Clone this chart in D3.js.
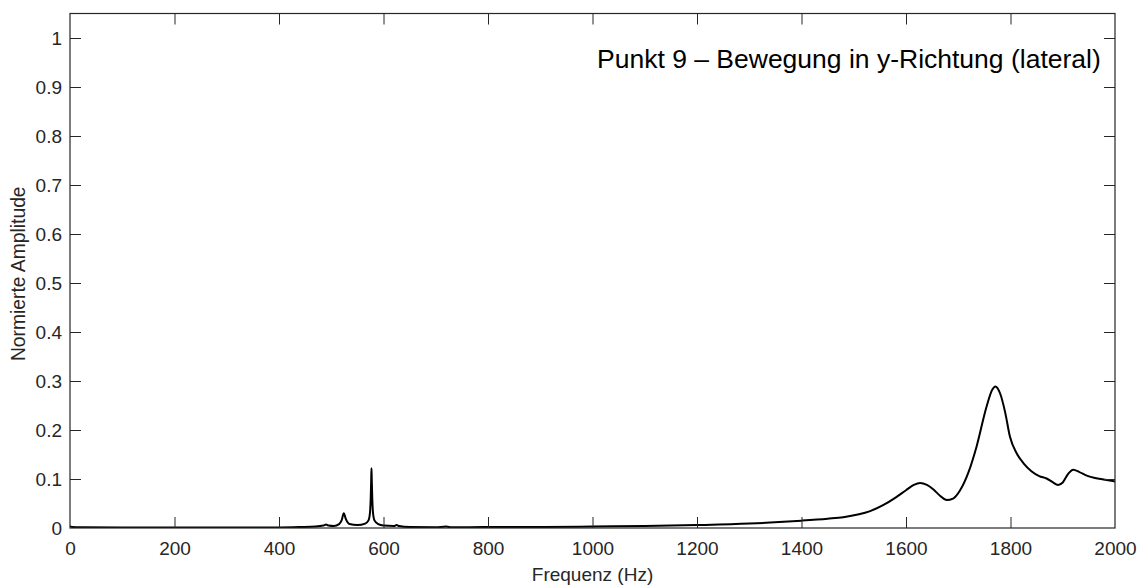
<!DOCTYPE html>
<html>
<head>
<meta charset="utf-8">
<script src="https://cdn.jsdelivr.net/npm/d3@7"></script>
<style>
  html, body { margin: 0; padding: 0; background: #fff; }
  svg { display: block; }
  text { font-family: "Liberation Sans", Arial, Helvetica, sans-serif; }
</style>
</head>
<body>
<svg id="chart" width="1146" height="588"></svg>
<script>
// Frequency response, point 9, lateral (y) direction
const freq = [0, 5, 20, 100, 200, 300, 400, 440, 470, 485, 490, 495, 505, 515, 520, 524, 528, 535, 550, 565, 571, 574, 575.5, 576.5, 577, 577.5, 578.5, 580, 583, 590, 600, 620, 625, 630, 650, 700, 720, 730, 800, 900, 1000, 1100, 1200, 1300, 1340, 1400, 1450, 1480, 1510, 1530, 1557, 1580, 1600, 1615, 1627, 1640, 1652, 1665, 1678, 1690, 1703, 1720, 1735, 1754, 1765, 1771, 1780, 1790, 1799, 1812, 1825, 1840, 1855, 1869, 1880, 1891, 1900, 1910, 1920, 1932, 1946, 1962, 1978, 2000];
const amp = [0.004, 0.002, 0.0015, 0.001, 0.001, 0.001, 0.0012, 0.002, 0.003, 0.005, 0.007, 0.005, 0.004, 0.008, 0.016, 0.03, 0.018, 0.008, 0.006, 0.009, 0.015, 0.03, 0.06, 0.1, 0.122, 0.1, 0.06, 0.03, 0.015, 0.008, 0.005, 0.004, 0.006, 0.004, 0.002, 0.0015, 0.003, 0.0015, 0.002, 0.002, 0.003, 0.004, 0.006, 0.009, 0.011, 0.015, 0.019, 0.022, 0.028, 0.034, 0.047, 0.062, 0.077, 0.088, 0.092, 0.088, 0.079, 0.066, 0.057, 0.06, 0.076, 0.115, 0.166, 0.247, 0.282, 0.289, 0.275, 0.235, 0.186, 0.152, 0.132, 0.116, 0.106, 0.101, 0.094, 0.088, 0.093, 0.11, 0.119, 0.114, 0.107, 0.102, 0.099, 0.095];

const xTicks = [0, 200, 400, 600, 800, 1000, 1200, 1400, 1600, 1800, 2000];
const yTicks = [0, 0.1, 0.2, 0.3, 0.4, 0.5, 0.6, 0.7, 0.8, 0.9, 1];

const titleText = "Punkt 9 – Bewegung in y-Richtung (lateral)";
const xLabel = "Frequenz (Hz)";
const yLabel = "Normierte Amplitude";

const margin = { left: 70, right: 31, top: 13.5, bottom: 60 };
const W = 1146, H = 588;
const x0 = margin.left, x1 = W - margin.right;
const y0 = H - margin.bottom, y1 = margin.top;

const svg = d3.select("#chart");
const axisColor = "#262626";
const tickLen = 11;

const x = d3.scaleLinear().domain([0, 2000]).range([x0, x1]);
const y = d3.scaleLinear().domain([0, 1.05]).range([y0, y1]);

// Data curve (clipped to plot box)
svg.append("clipPath").attr("id", "plotClip")
  .append("rect").attr("x", x0).attr("y", y1).attr("width", x1 - x0).attr("height", y0 - y1);

const data = freq.map((f, i) => [f, amp[i]]);
const line = d3.line().x(d => x(d[0])).y(d => y(d[1])).curve(d3.curveMonotoneX);

svg.append("path")
  .datum(data)
  .attr("clip-path", "url(#plotClip)")
  .attr("fill", "none")
  .attr("stroke", "#000")
  .attr("stroke-width", 2)
  .attr("stroke-linejoin", "round")
  .attr("d", line);

// Axes: inward ticks on all four sides
const fmt = d => d3.format("~g")(d);

const axBottom = svg.append("g").attr("transform", `translate(0,${y0})`)
  .call(d3.axisBottom(x).tickValues(xTicks).tickSizeInner(-tickLen).tickSizeOuter(0).tickPadding(14).tickFormat(fmt));
const axTop = svg.append("g").attr("transform", `translate(0,${y1})`)
  .call(d3.axisTop(x).tickValues(xTicks).tickSizeInner(-tickLen).tickSizeOuter(0).tickFormat(""));
const axLeft = svg.append("g").attr("transform", `translate(${x0},0)`)
  .call(d3.axisLeft(y).tickValues(yTicks).tickSizeInner(-tickLen).tickSizeOuter(0).tickPadding(8).tickFormat(fmt));
const axRight = svg.append("g").attr("transform", `translate(${x1},0)`)
  .call(d3.axisRight(y).tickValues(yTicks).tickSizeInner(-tickLen).tickSizeOuter(0).tickFormat(""));

[axBottom, axTop, axLeft, axRight].forEach(g => {
  g.select(".domain").remove();
  g.selectAll(".tick line").attr("stroke", axisColor).attr("stroke-width", 1);
  g.selectAll(".tick text")
    .attr("fill", axisColor)
    .style("font-size", "19px")
    .style("font-family", "'Liberation Sans', Arial, sans-serif");
});
// tick marks that would sit on the box edges are not needed
axBottom.selectAll(".tick").filter(d => d === 0 || d === 2000).select("line").remove();
axTop.selectAll(".tick").filter(d => d === 0 || d === 2000).select("line").remove();
axLeft.selectAll(".tick").filter(d => d === 0).select("line").remove();
axRight.selectAll(".tick").filter(d => d === 0).select("line").remove();

// Plot box
svg.append("rect")
  .attr("x", x0).attr("y", y1)
  .attr("width", x1 - x0).attr("height", y0 - y1)
  .attr("fill", "none")
  .attr("stroke", axisColor)
  .attr("stroke-width", 1.2);

// Axis labels
svg.append("text")
  .attr("x", (x0 + x1) / 2).attr("y", 581)
  .attr("text-anchor", "middle")
  .attr("fill", axisColor)
  .style("font-size", "19px")
  .text(xLabel);

svg.append("text")
  .attr("transform", `translate(25,${(y0 + y1) / 2 + 3}) rotate(-90)`)
  .attr("text-anchor", "middle")
  .attr("fill", axisColor)
  .style("font-size", "19.3px")
  .text(yLabel);

// In-plot annotation
svg.append("text")
  .attr("x", 597).attr("y", 68)
  .attr("fill", "#000")
  .style("font-size", "26.5px")
  .text(titleText);
</script>
</body>
</html>
